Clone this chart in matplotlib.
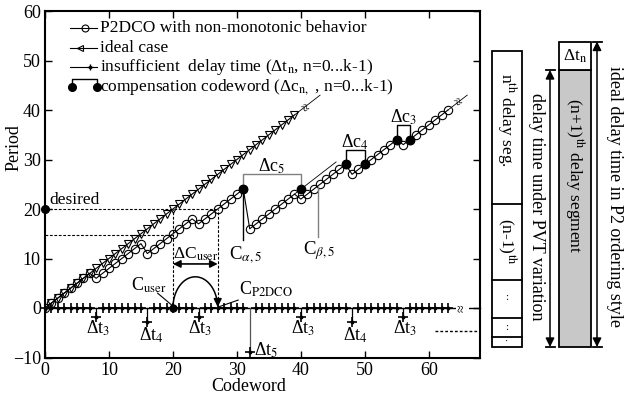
import numpy as np
import matplotlib.pyplot as plt
from matplotlib.patches import Rectangle

plt.rcParams['font.family'] = ['Liberation Serif', 'DejaVu Serif']
plt.rcParams['mathtext.fontset'] = 'stix'

# --- data ---
codeword = list(range(64))
p2dco = [0, 1, 2, 3, 4, 5, 6, 7,
         6, 7, 8, 9, 10, 11, 12, 13,
         11, 12, 13, 14, 15, 16, 17, 18,
         17, 18, 19, 20, 21, 22, 23, 24,
         16, 17, 18, 19, 20, 21, 22, 23,
         22, 23, 24, 25, 26, 27, 28, 29,
         27, 28, 29, 30, 31, 32, 33, 34,
         33, 34, 35, 36, 37, 38, 39, 40]

ideal_cw = [0, 1, 2, 3, 4, 5, 6, 7, 8, 9, 10, 11, 12, 13, 14, 15, 16, 17, 18, 19,
            20, 21, 22, 23, 24, 25, 26, 27, 28, 29, 30, 31, 32, 33, 34, 35, 36, 37, 38, 39]
ideal_period = [0, 1, 2, 3, 4, 5, 6, 7, 8, 9, 10, 11, 12, 13, 14, 15, 16, 17, 18, 19,
                20, 21, 22, 23, 24, 25, 26, 27, 28, 29, 30, 31, 32, 33, 34, 35, 36, 37, 38, 39]

# insufficient delay time per codeword (0 = none)
insuff = [0, 0, 0, 0, 0, 0, 0, 0,
          -1.8, 0, 0, 0, 0, 0, 0, 0,
          -2.8, 0, 0, 0, 0, 0, 0, 0,
          -1.8, 0, 0, 0, 0, 0, 0, 0,
          -8.9, 0, 0, 0, 0, 0, 0, 0,
          -1.8, 0, 0, 0, 0, 0, 0, 0,
          -2.8, 0, 0, 0, 0, 0, 0, 0,
          -1.8, 0, 0, 0, 0, 0, 0, 0]
insuff_names = {8: '3', 16: '4', 24: '3', 32: '5', 40: '3', 48: '4', 56: '3'}

comp_cw = [31, 40, 47, 50, 55, 57]
comp_period = [24, 24, 29, 29, 34, 34]
comp_names = ['5', '4', '3']

c_user = 20
c_p2dco = 27
desired = 20

fig = plt.figure(figsize=(6.24, 4.0), dpi=100)
ax = fig.add_axes([45 / 624, 42.5 / 400, 435 / 624, 346.5 / 400])
ax.set_xlim(0, 68)
ax.set_ylim(-10, 60)
ax.set_xticks([0, 10, 20, 30, 40, 50, 60])
ax.set_yticks([-10, 0, 10, 20, 30, 40, 50, 60])
ax.tick_params(direction='in', top=True, right=True, length=5, width=1, labelsize=13, pad=3)
for s in ax.spines.values():
    s.set_linewidth(1.5)
ax.set_ylabel('Period', fontsize=13)
ax.set_xlabel('Codeword', fontsize=13)
ax.yaxis.set_label_coords(-0.052, 0.607)
ax.xaxis.set_label_coords(0.469, -0.058)

lw = 0.8
# P2DCO curve
ax.plot(codeword, p2dco, '-', color='k', lw=lw, marker='o', ms=6, mfc='none', mew=0.8)
ax.plot([39, 45.5], [23, 29.5], 'k-', lw=0.6)
ax.plot([63, 66], [40, 43], 'k-', lw=0.6)
ax.text(64.2, 41.6, '≈', rotation=-52, ha='center', va='center', fontsize=10)

# ideal case
ax.plot(ideal_cw, ideal_period, '-', color='k', lw=lw, marker='v', ms=6, mfc='none', mew=0.8)
ax.plot([39, 43], [39, 43], 'k-', lw=0.6)
ax.text(40.3, 40.4, '≈', rotation=-52, ha='center', va='center', fontsize=10)

# insufficient delay time
ax.plot([0, 68], [0, 0], 'k-', lw=1.0, clip_on=False)
base_x = [c for c, v in zip(codeword, insuff) if v == 0]
ax.plot(base_x, [0] * len(base_x), ls='none', marker='+', ms=6.5, mew=1.2, color='k', clip_on=False)
ax.plot(base_x, [0] * len(base_x), ls='none', marker='.', ms=3.5, color='k', clip_on=False)
for c, v in zip(codeword, insuff):
    if v == 0:
        continue
    col = '#555555' if v < -5 else 'k'
    ax.plot([c, c], [0, v], '-', color=col, lw=0.9)
    ax.plot(c, v, marker='+', ms=6.5, mew=1.2, color='k')
    ax.plot(c, v, marker='.', ms=3.5, color='k')
    name = 'Δt$_{%s}$' % insuff_names[c]
    if v < -5:
        ax.text(c + 0.6, v + 0.4, name, ha='left', va='center', fontsize=13)
    elif v < -2:
        ax.text(c + 0.6, v - 2.7, name, ha='center', va='center', fontsize=13)
    else:
        ax.text(c + 0.3, v - 2.2, name, ha='center', va='center', fontsize=13)
ax.text(65.2, 0, '≈', rotation=90, ha='center', va='center', fontsize=10,
        bbox=dict(fc='white', ec='none', pad=0))
ax.plot([61, 68], [-4.6, -4.6], 'k--', lw=1, dashes=(2, 1.5))

# desired / user codeword construction
ax.plot(0, desired, 'ko', ms=5.5, clip_on=False, zorder=5)
ax.text(0.7, desired + 0.3, 'desired', ha='left', va='bottom', fontsize=12.5)
dash = dict(color='k', lw=0.8, dashes=(2.5, 1.5))
ax.plot([0, c_p2dco], [desired, desired], **dash)
ax.plot([0, c_user], [14.7, 14.7], **dash)
ax.plot([c_user, c_user], [0, desired], **dash)
ax.plot([c_p2dco, c_p2dco], [0, desired], **dash)
ax.annotate('', xy=(c_user, 8.9), xytext=(c_p2dco, 8.9),
            arrowprops=dict(arrowstyle='<|-|>', color='k', lw=1.2, mutation_scale=11,
                            shrinkA=0, shrinkB=0))
ax.text((c_user + c_p2dco) / 2, 10.9, 'ΔC$_{\\rm user}$', ha='center', va='center', fontsize=12.5)
t = np.linspace(np.pi, 0.12, 60)
ax.plot((c_user + c_p2dco) / 2 + 3.5 * np.cos(t), 6.3 * np.sin(t), 'k-', lw=1.1)
ax.annotate('', xy=(c_p2dco, 0.2), xytext=(c_p2dco, 1.6),
            arrowprops=dict(arrowstyle='-|>', color='k', lw=1.1, mutation_scale=12,
                            shrinkA=0, shrinkB=0))
ax.plot(c_user, 0, 'ko', ms=5, zorder=5)
ax.text(19.0, 4.5, 'C$_{\\rm user}$', ha='right', va='center', fontsize=13)
ax.plot([17.6, 19.8], [3.0, 0.6], 'k-', lw=0.8)
ax.text(30.3, 3.7, 'C$_{\\rm P2DCO}$', ha='left', va='center', fontsize=13)
ax.plot([27.3, 30.2], [0.3, 1.6], 'k-', lw=0.8)

# compensation codewords
ax.plot(comp_cw, comp_period, 'ko', ms=6, ls='none', zorder=5)
tops = [27.1, 31.9, 37.0]
cols = ['#808080', 'k', 'k']
for i in range(3):
    x0, x1 = comp_cw[2 * i], comp_cw[2 * i + 1]
    y0 = comp_period[2 * i]
    ax.plot([x0, x0, x1, x1], [y0, tops[i], tops[i], y0], '-', color=cols[i], lw=1.0)
    ax.text((x0 + x1) / 2, tops[i] + 1.6, 'Δc$_{%s}$' % comp_names[i],
            ha='center', va='center', fontsize=13)
ax.plot([31, 31], [24, 13.7], 'k-', lw=1.0)
ax.text(31.4, 10.6, 'C$_{\\alpha,5}$', ha='center', va='center', fontsize=13.5)
ax.plot([42.7, 42.7], [24.5, 14.3], '-', color='#808080', lw=1.0)
ax.text(42.9, 11.6, 'C$_{\\beta,5}$', ha='center', va='center', fontsize=13.5)

# legend drawn by hand
ly = [56.6, 52.5, 48.7, 44.6]
lx0, lx1, tx = 3.9, 8.1, 8.6
ax.plot([lx0, lx1], [ly[0]] * 2, 'k-', lw=lw)
ax.plot(6.2, ly[0], marker='o', ms=5, mfc='none', mec='k', mew=0.8)
ax.plot([lx0, lx1], [ly[1]] * 2, 'k-', lw=lw)
ax.plot(5.4, ly[1], marker='<', ms=5, mfc='none', mec='k', mew=0.8)
ax.plot([lx0, lx1], [ly[2]] * 2, 'k-', lw=lw)
ax.plot(7.0, ly[2], marker='+', ms=5, mew=1, color='k')
ax.plot(7.0, ly[2], marker='.', ms=3, color='k')
ax.plot([4.2, 4.2, 8.1, 8.1], [ly[3], ly[3] + 1.6, ly[3] + 1.6, ly[3]], 'k-', lw=1.0)
ax.plot([4.2, 8.1], [ly[3], ly[3]], 'ko', ms=5.5, ls='none')
labels = ['P2DCO with non-monotonic behavior',
          'ideal case',
          'insufficient  delay time (Δt$_{\\rm n}$, n=0...k-1)',
          'compensation codeword (Δc$_{\\rm n,}$ , n=0...k-1)']
for y, s in zip(ly, labels):
    ax.text(tx, y, s, ha='left', va='center', fontsize=12.5)

# --- delay segment diagram on the right (pixel coordinates) ---
dg = fig.add_axes([0, 0, 1, 1])
dg.set_xlim(0, 624)
dg.set_ylim(400, 0)
dg.axis('off')
dg.patch.set_visible(False)

dg.add_patch(Rectangle((491.5, 51), 30.5, 296, fill=False, ec='k', lw=1.3))
for yy in [204, 280, 318, 337]:
    dg.plot([491.5, 522], [yy, yy], 'k-', lw=1.3)
dg.text(507, 120, 'n$^{\\rm th}$ delay seg.', rotation=-90, ha='center', va='center', fontsize=12.5)
dg.text(507, 241, '(n-1)$^{\\rm th}$', rotation=-90, ha='center', va='center', fontsize=12.5)
dg.text(507, 298, ':', ha='center', va='center', fontsize=8)
dg.text(507, 327, ':', ha='center', va='center', fontsize=8)
dg.text(507, 341, '·', ha='center', va='center', fontsize=7)

dg.add_patch(Rectangle((559, 70), 32, 277, fc='#c8c8c8', ec='k', lw=1.3))
dg.add_patch(Rectangle((559, 41.5), 32, 28.5, fc='white', ec='k', lw=1.3))
dg.text(575, 56, 'Δt$_{\\rm n}$', ha='center', va='center', fontsize=12.5)
dg.text(575, 176, '(n+1)$^{\\rm th}$ delay segment', rotation=-90, ha='center', va='center', fontsize=12.5)

for x, ytop, xtxt, ytxt, s in [(550, 70, 537, 207, 'delay time under PVT variation'),
                               (597, 41.5, 615, 196, 'ideal delay time in P2 ordering style')]:
    dg.annotate('', xy=(x, ytop), xytext=(x, 347),
                arrowprops=dict(arrowstyle='<|-|>', color='k', lw=1.1, mutation_scale=13,
                                shrinkA=0, shrinkB=0))
    dg.plot([x - 4.5, x + 4.5], [ytop, ytop], 'k-', lw=1.3)
    dg.plot([x - 4.5, x + 4.5], [347, 347], 'k-', lw=1.3)
    dg.text(xtxt, ytxt, s, rotation=-90, ha='center', va='center', fontsize=13)

fig.savefig('out.png', dpi=100)
